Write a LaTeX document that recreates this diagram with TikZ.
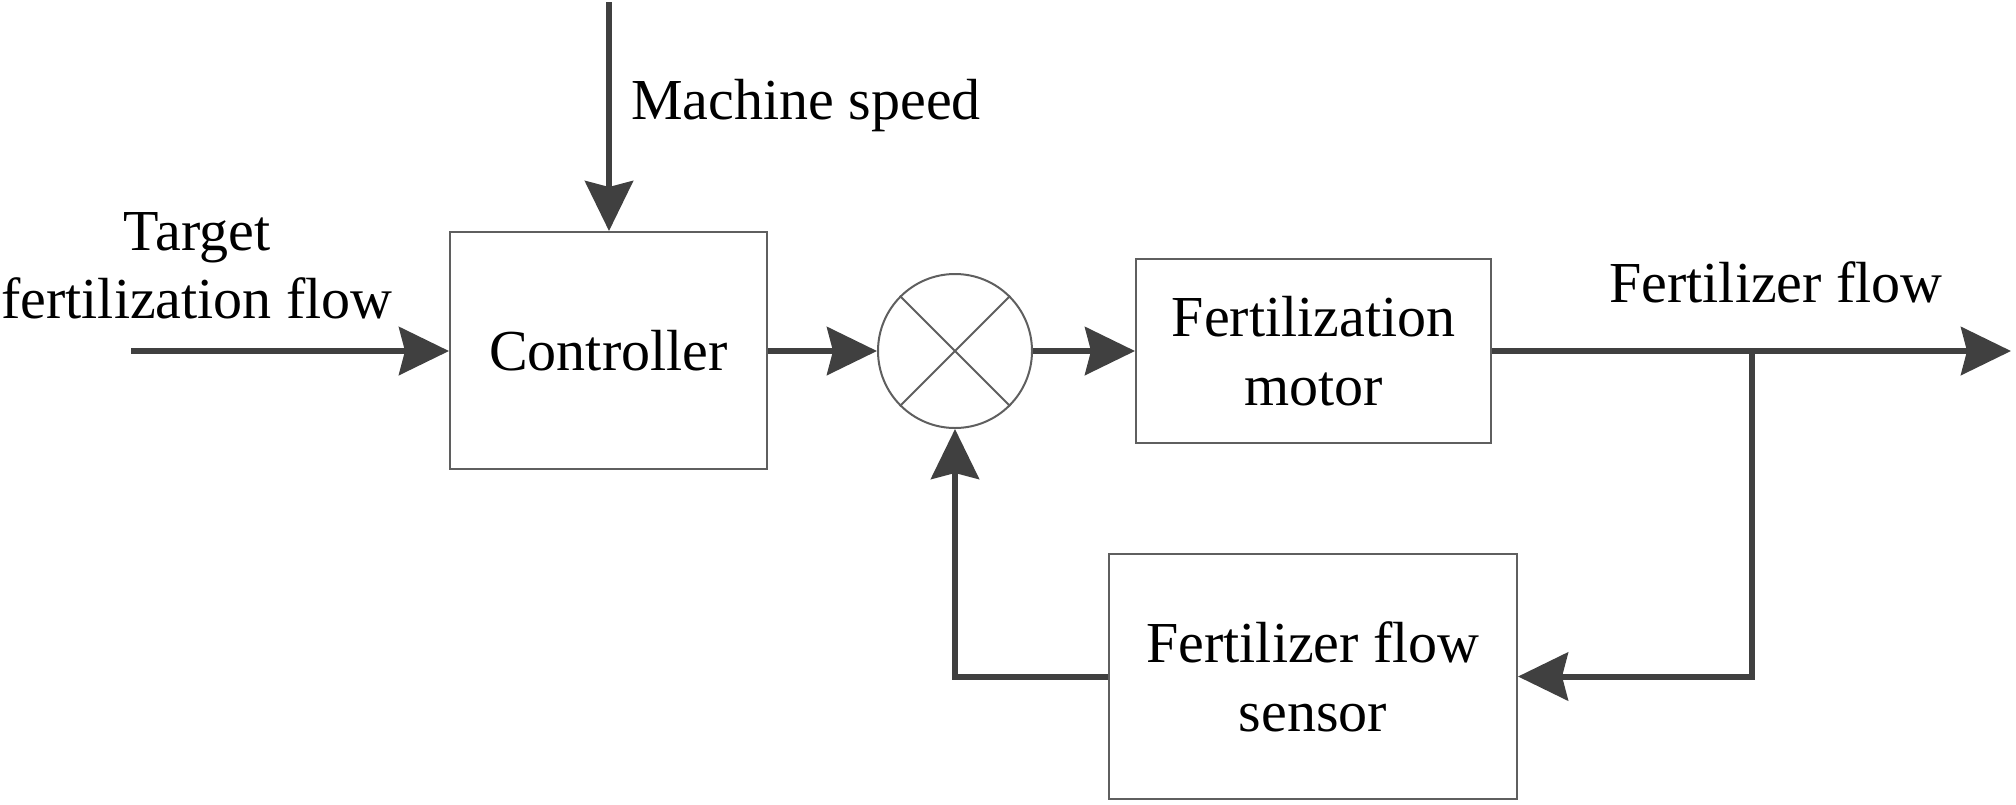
\documentclass[tikz,border=0pt]{standalone}
\usepackage{fontspec}
\setmainfont{Liberation Serif}
\usetikzlibrary{arrows.meta}
\definecolor{lineg}{RGB}{64,64,64}
\definecolor{boxg}{RGB}{95,95,95}
\begin{document}
\begin{tikzpicture}[x=0.5pt,y=-0.5pt,
  blk/.style={draw=boxg, line width=1pt, rectangle, inner sep=0pt, align=center,
    font=\fontsize{29pt}{34.5pt}\selectfont},
  sumnode/.style={draw=boxg, line width=1pt, circle, inner sep=0pt, minimum size=77pt},
  conn/.style={draw=lineg, line width=3pt, line join=miter,
    -{Stealth[length=25pt,width=24pt,inset=3pt]}},
  lbl/.style={inner sep=0pt, align=center, font=\fontsize{29pt}{34pt}\selectfont}]
\useasboundingbox (0,0) rectangle (2016,804);
% blocks
\node[blk, minimum width=158.5pt, minimum height=118.5pt] (ctrl) at (608.5,350.5) {Controller};
\node[sumnode] (sum) at (955,351) {};
\draw[boxg, line width=1pt] (sum.north west) -- (sum.south east)
  (sum.north east) -- (sum.south west);
\node[blk, minimum width=177.5pt, minimum height=92pt] (motor) at (1313.5,351) {Fertilization\\motor};
\node[blk, minimum width=204pt, minimum height=122.5pt] (sensor) at (1313,676.5) {Fertilizer flow\\sensor};
% free ends
\coordinate (in) at (131,351);
\coordinate (ms) at (609,2);
\coordinate (out) at (2011,351);
\coordinate (br) at (1752,351);
% labels
\node[lbl, anchor=base west] (msl) at (631,119) {Machine speed};
\node[lbl] (tgt) at (197,266) {Target\\fertilization flow};
\node[lbl, anchor=base west] (ffl) at (1609,302) {Fertilizer flow};
% connectors
\draw[conn] (in) -- (ctrl.west |- in);
\draw[conn] (ms) -- (ms |- ctrl.north);
\draw[conn] (ctrl.east |- sum.west) -- (sum.west);
\draw[conn] (sum.east) -- (motor.west);
\draw[conn] (motor.east) -- (out);
\draw[conn] (br) -- (br |- sensor.east) -- (sensor.east);
\draw[conn] (sensor.west) -- (sum.south |- sensor.west) -- (sum.south);
\end{tikzpicture}
\end{document}
